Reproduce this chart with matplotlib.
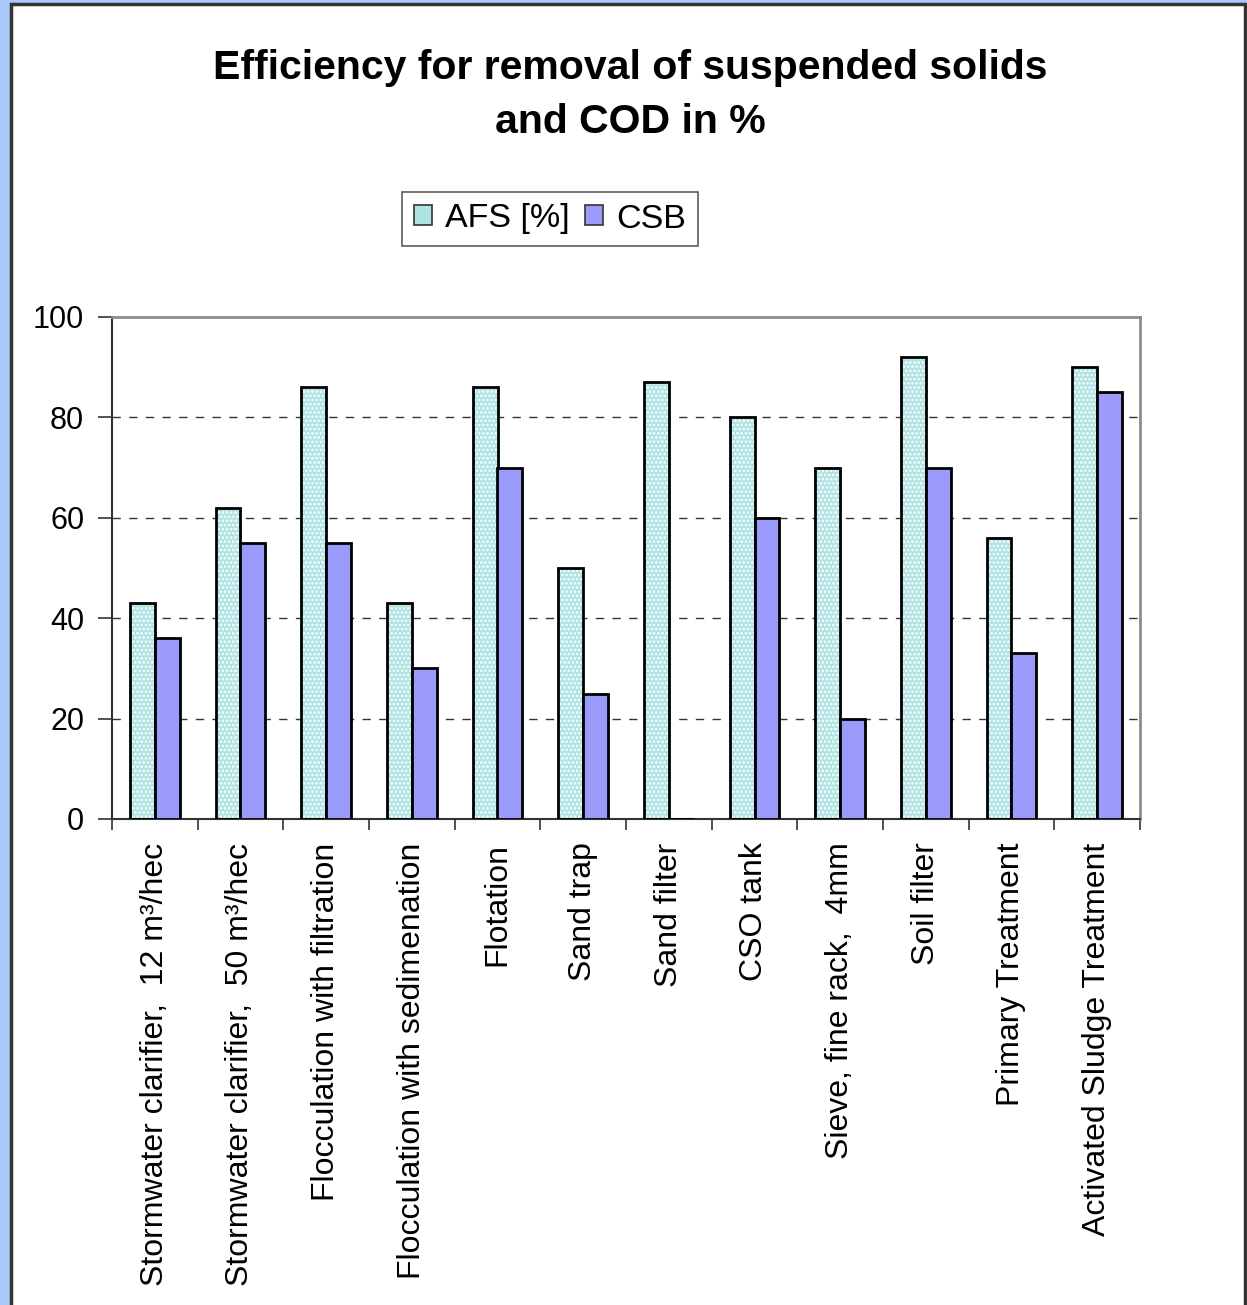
import matplotlib.pyplot as plt
import numpy as np
from matplotlib.patches import Rectangle, Patch

plt.rcParams['font.family'] = ['Liberation Sans', 'DejaVu Sans']

categories = [
    "Stormwater clarifier,  12 m³/hec",
    "Stormwater clarifier,  50 m³/hec",
    "Flocculation with filtration",
    "Flocculation with sedimenation",
    "Flotation",
    "Sand trap",
    "Sand filter",
    "CSO tank",
    "Sieve, fine rack,  4mm",
    "Soil filter",
    "Primary Treatment",
    "Activated Sludge Treatment",
]
afs = [43, 62, 86, 43, 86, 50, 87, 80, 70, 92, 56, 90]
csb = [36, 55, 55, 30, 70, 25, 0, 60, 20, 70, 33, 85]
yticks = [0, 20, 40, 60, 80, 100]

W, H = 1247, 1305
fig = plt.figure(figsize=(W / 100, H / 100), dpi=100)
fig.patch.set_facecolor('#AAC8F8')
fig.patches.append(Rectangle((11 / W, -0.01), (1245 - 11) / W, 1.01 - 4 / H,
                             transform=fig.transFigure, facecolor='white',
                             edgecolor='#333333', linewidth=2.5, zorder=-5))

ax = fig.add_axes([112 / W, 1 - 819 / H, (1140 - 112) / W, (819 - 317) / H])
ax.set_facecolor('white')

x = np.arange(len(categories))
w = 0.29
teal = '#B0E4E4'
violet = '#9B9BFB'
plt.rcParams['hatch.linewidth'] = 1.2
ax.bar(x - w / 2, afs, w, color=teal, edgecolor='white', linewidth=0, hatch='....', zorder=2)
ax.bar(x - w / 2, afs, w, fill=False, edgecolor='black', linewidth=2, zorder=3)
ax.bar(x + w / 2, csb, w, color=violet, edgecolor='black', linewidth=2, zorder=3)

ax.set_xlim(-0.5, len(categories) - 0.5)
ax.set_ylim(0, 100)
ax.set_yticks(yticks)
ax.set_yticklabels([str(v) for v in yticks], fontsize=22)
ax.tick_params(axis='y', length=10, width=1.2, pad=10, color='#333333')
for v in yticks[1:-1]:
    ax.axhline(v, color='#333333', linestyle=(0, (6, 6)), linewidth=1, zorder=1)

ax.set_xticks(x)
ax.set_xticklabels(categories, rotation=90, fontsize=23, va='top')
ax.tick_params(axis='x', length=0, pad=17)
ax.set_xticks(np.arange(len(categories) + 1) - 0.5, minor=True)
ax.tick_params(axis='x', which='minor', length=8, width=1.2, color='#333333')

for s in ['top', 'right']:
    ax.spines[s].set_color('#8C8C8C')
    ax.spines[s].set_linewidth(2)
for s in ['left', 'bottom']:
    ax.spines[s].set_color('#333333')
    ax.spines[s].set_linewidth(1.5)

fig.text(630 / W, 1 - 79 / H, "Efficiency for removal of suspended solids",
         ha='center', va='baseline', fontsize=29.5, fontweight='bold')
fig.text(630 / W, 1 - 133 / H, "and COD in %",
         ha='center', va='baseline', fontsize=29.5, fontweight='bold')

handles = [Patch(facecolor=teal, edgecolor='#333333', linewidth=1.2),
           Patch(facecolor=violet, edgecolor='#333333', linewidth=1.2)]
leg = fig.legend(handles, ["AFS [%]", "CSB"], loc='center', ncol=2,
                 bbox_to_anchor=(550 / W, 1 - 219 / H), fontsize=24.5,
                 frameon=True, fancybox=False, handlelength=0.53, handleheight=0.53,
                 handletextpad=0.38, columnspacing=0.47, borderpad=0.35,
                 borderaxespad=0)
leg.get_frame().set_edgecolor('#333333')
leg.get_frame().set_linewidth(1.2)

fig.savefig('out.png', dpi=100, facecolor=fig.get_facecolor())
